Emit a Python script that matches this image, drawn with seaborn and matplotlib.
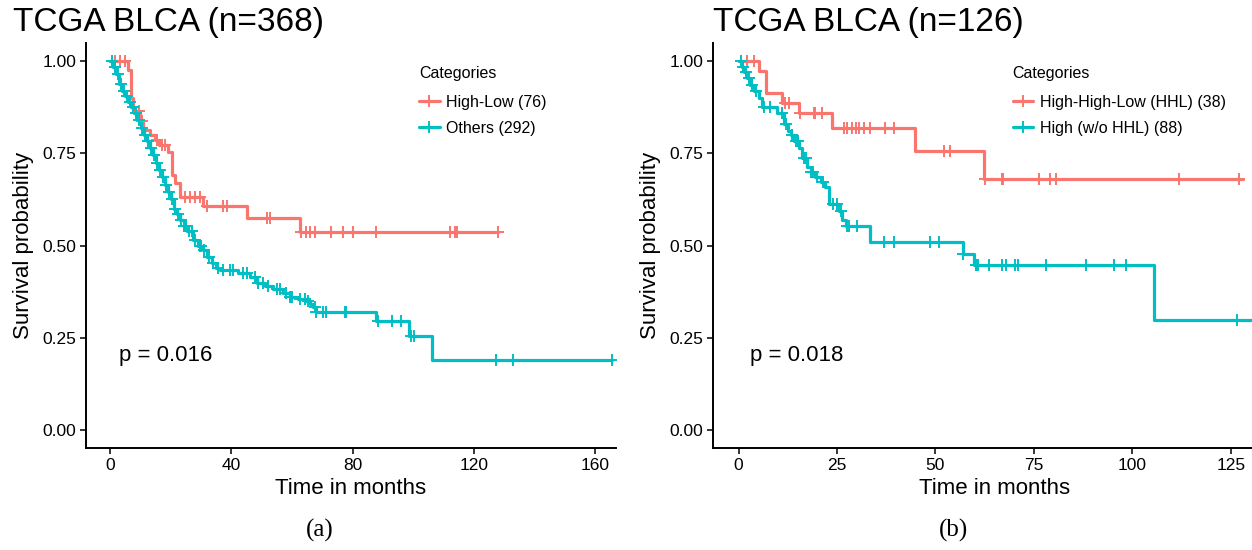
import numpy as np
import pandas as pd
import seaborn as sns
import matplotlib.pyplot as plt
from matplotlib.lines import Line2D

# ---- panel (a): step points (time in months, survival)
a_hl_time = [0, 5.9, 6.9, 7.6, 9.9, 10.9, 13.2, 14.8, 16.0, 19.0, 20.4, 21.4, 23.0,
             30.6, 45.0, 62.6, 128.0]
a_hl_surv = [1.0, 0.978, 0.90, 0.864, 0.837, 0.815, 0.80, 0.787, 0.774, 0.755, 0.692,
             0.67, 0.633, 0.607, 0.574, 0.537, 0.537]
a_hl_cens = [1.6, 3.3, 5.0, 9.5, 10.5, 15.5, 17.0, 18.0, 24.7, 26.4, 28.0, 29.7, 31.9,
             37.2, 38.4, 51.6, 52.7, 63.1, 64.7, 65.9, 67.5, 72.9, 76.9, 80.0, 87.9,
             112.3, 114.0, 114.4, 127.9]

a_ot_time = [0, 1, 2, 3, 4, 5, 6, 7, 8, 9, 10, 11, 12, 13, 14, 15, 16, 17, 18, 19, 20,
             21, 22, 23, 24.2, 25.5, 27.4, 29.0, 30.7, 32.0, 33.5, 35.0, 36.2, 42.3,
             46.1, 48.3, 51.0, 53.8, 57.0, 59.3, 62.0, 64.8, 66.0, 67.0, 68.1, 87.9,
             98.6, 106.2, 165.8]
a_ot_surv = [1.0, 0.985, 0.965, 0.94, 0.92, 0.905, 0.89, 0.875, 0.86, 0.84, 0.82, 0.80,
             0.785, 0.765, 0.745, 0.725, 0.705, 0.685, 0.665, 0.645, 0.625, 0.60, 0.585,
             0.57, 0.553, 0.54, 0.515, 0.50, 0.488, 0.47, 0.452, 0.44, 0.433, 0.424,
             0.415, 0.397, 0.39, 0.383, 0.372, 0.361, 0.356, 0.35, 0.34, 0.333, 0.32,
             0.295, 0.253, 0.19, 0.19]
a_ot_cens = [0.5, 1.5, 2.5, 3.5, 4.5, 5.5, 6.5, 7.5, 8.5, 9.5, 10.5, 11.5, 12.5, 13.5,
             14.5, 15.5, 16.5, 17.5, 18.5, 19.5, 20.5, 21.5, 22.5, 23.5, 24.5, 25.0,
             26.0, 27.0, 28.0, 29.5, 30.0, 31.0, 32.5, 34.0, 35.5, 37.2, 39.5, 40.5,
             44.0, 45.0, 47.8, 48.8, 50.4, 52.0, 55.0, 56.0, 58.2, 59.3, 59.9, 62.6,
             64.2, 65.3, 67.5, 68.1, 70.2, 71.4, 77.4, 78.0, 88.4, 93.1, 96.1, 99.4,
             100.3, 127.4, 132.9, 165.8]

# ---- panel (b)
b_hhl_time = [0, 5.2, 6.85, 11.1, 15.3, 23.8, 44.9, 62.3, 128.2]
b_hhl_surv = [1.0, 0.973, 0.914, 0.887, 0.86, 0.818, 0.757, 0.68, 0.68]
b_hhl_cens = [2.2, 3.9, 11.9, 12.8, 15.7, 19.1, 19.5, 21.2, 26.7, 27.6, 28.9, 29.7,
              30.5, 31.8, 33.5, 37.3, 39.4, 52.1, 53.8, 62.6, 66.9, 67.2, 76.2, 79.2,
              80.5, 111.8, 127.2]

b_hi_time = [0, 0.8, 1.5, 2.2, 3.0, 4.0, 5.2, 6.0, 9.8, 11.5, 12.5, 13.2, 14.0, 15.3,
             16.0, 17.4, 18.3, 19.5, 21.0, 22.0, 22.9, 25.5, 26.3, 27.2, 33.5, 57.0,
             59.9, 105.6, 131.0]
b_hi_surv = [1.0, 0.985, 0.97, 0.955, 0.937, 0.92, 0.90, 0.876, 0.86, 0.829, 0.812, 0.80,
             0.785, 0.766, 0.739, 0.712, 0.70, 0.685, 0.672, 0.658, 0.613, 0.595, 0.568,
             0.554, 0.509, 0.477, 0.446, 0.297, 0.297]
b_hi_cens = [0.5, 1.0, 1.8, 2.6, 3.5, 4.5, 6.5, 8.0, 11.0, 12.0, 13.5, 14.5, 15.0, 16.5,
             17.0, 18.5, 19.0, 20.0, 21.5, 24.0, 25.0, 26.0, 27.5, 28.0, 30.0, 37.0,
             39.4, 48.7, 50.8, 57.0, 60.4, 60.7, 63.5, 66.9, 68.0, 70.3, 70.9, 78.2,
             88.2, 95.3, 98.5, 126.7]

RED = "#F8766D"
TEAL = "#00BFC4"


def build(groups):
    curves, marks = [], []
    for name, t, s, c in groups:
        curves.append(pd.DataFrame({"time": t, "surv": s, "group": name}))
        idx = np.searchsorted(t, c, side="right") - 1
        marks.append(pd.DataFrame({"time": c, "surv": np.array(s)[idx], "group": name}))
    return pd.concat(curves), pd.concat(marks)


def km_panel(ax, groups, xlim, xticks, title, pval, leg_x, caption, title_x):
    curves, marks = build(groups)
    pal = {groups[0][0]: RED, groups[1][0]: TEAL}
    sns.lineplot(data=curves, x="time", y="surv", hue="group", palette=pal,
                 drawstyle="steps-post", estimator=None, sort=False, lw=2.3,
                 legend=False, ax=ax)
    for name, col in pal.items():
        m = marks[marks["group"] == name]
        ax.plot(m["time"], m["surv"], ls="none", marker="+", ms=9, mew=1.4, color=col)

    ax.set_xlim(*xlim)
    ax.set_ylim(-0.05, 1.05)
    ax.set_xticks(xticks)
    ax.set_yticks([0, 0.25, 0.5, 0.75, 1.0])
    ax.set_yticklabels(["0.00", "0.25", "0.50", "0.75", "1.00"])
    ax.tick_params(labelsize=12.5, length=4, width=1.1, colors="black", pad=3)
    ax.set_xlabel("Time in months", fontsize=16, labelpad=4, color="black")
    ax.set_ylabel("Survival probability", fontsize=16, labelpad=6, color="black")
    sns.despine(ax=ax)
    for sp in ["left", "bottom"]:
        ax.spines[sp].set_linewidth(1.4)
        ax.spines[sp].set_color("black")
    ax.text(3, 0.2, pval, fontsize=16, ha="left", va="center", color="black")

    # legend: title drawn as text, entries below it
    ax.text(leg_x, 0.925, "Categories", transform=ax.transAxes, fontsize=11.5,
            ha="left", va="center", color="black")
    handles = [Line2D([0], [0], color=col, lw=2.3, marker="+", ms=9, mew=1.4)
               for col in pal.values()]
    leg = ax.legend(handles, list(pal.keys()), loc="upper left",
                    bbox_to_anchor=(leg_x, 0.872), frameon=False, fontsize=11.5,
                    handlelength=1.3, handletextpad=0.4, labelspacing=0.7,
                    borderpad=0, borderaxespad=0)
    for t in leg.get_texts():
        t.set_color("black")

    fig = ax.figure
    fig.text(title_x, 0.96, title, fontsize=24, ha="left", va="center", color="black")
    fig.text(caption[1], 0.036, caption[0], fontsize=18, ha="center", va="center",
             family="Liberation Serif", color="black")


sns.set_theme(style="ticks")
plt.rcParams["font.family"] = ["Liberation Sans", "DejaVu Sans"]

fig = plt.figure(figsize=(12.52, 5.5), dpi=100)
ax1 = fig.add_axes([86 / 1252, 102 / 550, 530 / 1252, 405 / 550])
ax2 = fig.add_axes([713 / 1252, 102 / 550, 563 / 1252, 405 / 550])

km_panel(ax1,
         [("High-Low (76)", a_hl_time, a_hl_surv, a_hl_cens),
          ("Others (292)", a_ot_time, a_ot_surv, a_ot_cens)],
         (-8, 167), [0, 40, 80, 120, 160], "TCGA BLCA (n=368)", "p = 0.016",
         0.628, ("(a)", 320 / 1252), 13 / 1252)
km_panel(ax2,
         [("High-High-Low (HHL) (38)", b_hhl_time, b_hhl_surv, b_hhl_cens),
          ("High (w/o HHL) (88)", b_hi_time, b_hi_surv, b_hi_cens)],
         (-6.5, 136.5), [0, 25, 50, 75, 100, 125], "TCGA BLCA (n=126)", "p = 0.018",
         0.532, ("(b)", 953 / 1252), 713 / 1252)

fig.savefig("out.png", dpi=100)
